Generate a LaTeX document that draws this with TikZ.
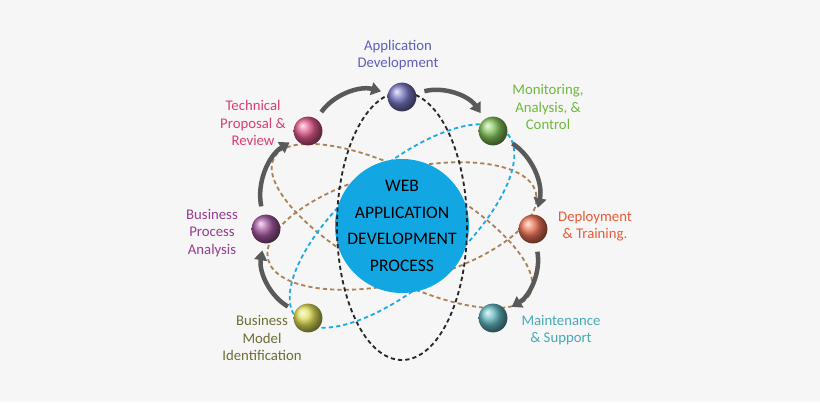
\documentclass[tikz,border=0pt]{standalone}
\usepackage{fontspec}
\setmainfont{Carlito}
\usetikzlibrary{arrows.meta}
\definecolor{bgc}{RGB}{246,246,246}
\definecolor{hubc}{RGB}{18,166,226}
\definecolor{orbb}{RGB}{170,130,90}
\definecolor{orbc}{RGB}{30,170,225}
\definecolor{cApp}{RGB}{95,95,185}
\definecolor{cMon}{RGB}{110,185,60}
\definecolor{cDep}{RGB}{235,90,55}
\definecolor{cMai}{RGB}{70,170,180}
\definecolor{cMod}{RGB}{110,110,55}
\definecolor{cPro}{RGB}{150,60,145}
\definecolor{cTec}{RGB}{220,60,120}
\definecolor{bMod}{RGB}{215,215,60}
\tikzset{
  ball/.style={circle,minimum size=0.72cm,inner sep=0pt,ball color=#1!85!white,shading=ball},
  lab/.style={align=center,font=\fontsize{10.5}{12.5}\selectfont,text=#1},
  orbit/.style={dashed,line width=1.3pt,dash pattern=on 3pt off 2.2pt},
  flow/.style={-{Triangle[length=7pt,width=9pt]},line width=3.2pt,gray!70!black,shorten <=6pt,shorten >=5pt}
}
\begin{document}
\begin{tikzpicture}[x=0.025cm,y=-0.025cm]
\fill[bgc] (0,0) rectangle (820,402);
\useasboundingbox (0,0) rectangle (820,402);
% orbits
\draw[orbit,orbb] (402,226) ellipse[x radius=145,y radius=52,rotate=-28];
\draw[orbit,orbb] (402,226) ellipse[x radius=138,y radius=56,rotate=14];
\draw[orbit,orbc] (402,226) ellipse[x radius=140,y radius=58,rotate=41];
\fill[hubc] (402,226) circle (67);
\draw[orbit,black!85] (402,226) ellipse[x radius=65,y radius=134];
\node[align=center,font=\fontsize{12.5}{19}\selectfont] (hub) at (402,226) {WEB\\APPLICATION\\DEVELOPMENT\\PROCESS};
% balls
\node[ball=cApp] (app) at (402,97) {};
\node[ball=cMon] (mon) at (493,131) {};
\node[ball=cDep] (dep) at (533,229) {};
\node[ball=cMai] (mai) at (493,318) {};
\node[ball=bMod] (mod) at (308,318) {};
\node[ball=cPro] (pro) at (266,229) {};
\node[ball=cTec] (tec) at (308,131) {};
% labels
\node[lab=cApp] at (398,55) {Application\\Development};
\node[lab=cMon] at (548,107) {Monitoring,\\Analysis, \&\\Control};
\node[lab=cDep] at (595,226) {Deployment\\\& Training.};
\node[lab=cMai] at (561,330) {Maintenance\\\& Support};
\node[lab=cMod] at (262,338) {Business\\Model\\Identification};
\node[lab=cPro] at (212,233) {Business\\Process\\Analysis};
\node[lab=cTec] at (253,123) {Technical\\Proposal \&\\Review};
% flows
\draw[flow] (tec) to[bend left=35] (app);
\draw[flow] (app) to[bend left=35] (mon);
\draw[flow] (mon) to[bend left=35] (dep);
\draw[flow] (dep) to[bend left=35] (mai);
\draw[flow] (mod) to[bend left=35] (pro);
\draw[flow] (pro) to[bend left=35] (tec);
\end{tikzpicture}
\end{document}
